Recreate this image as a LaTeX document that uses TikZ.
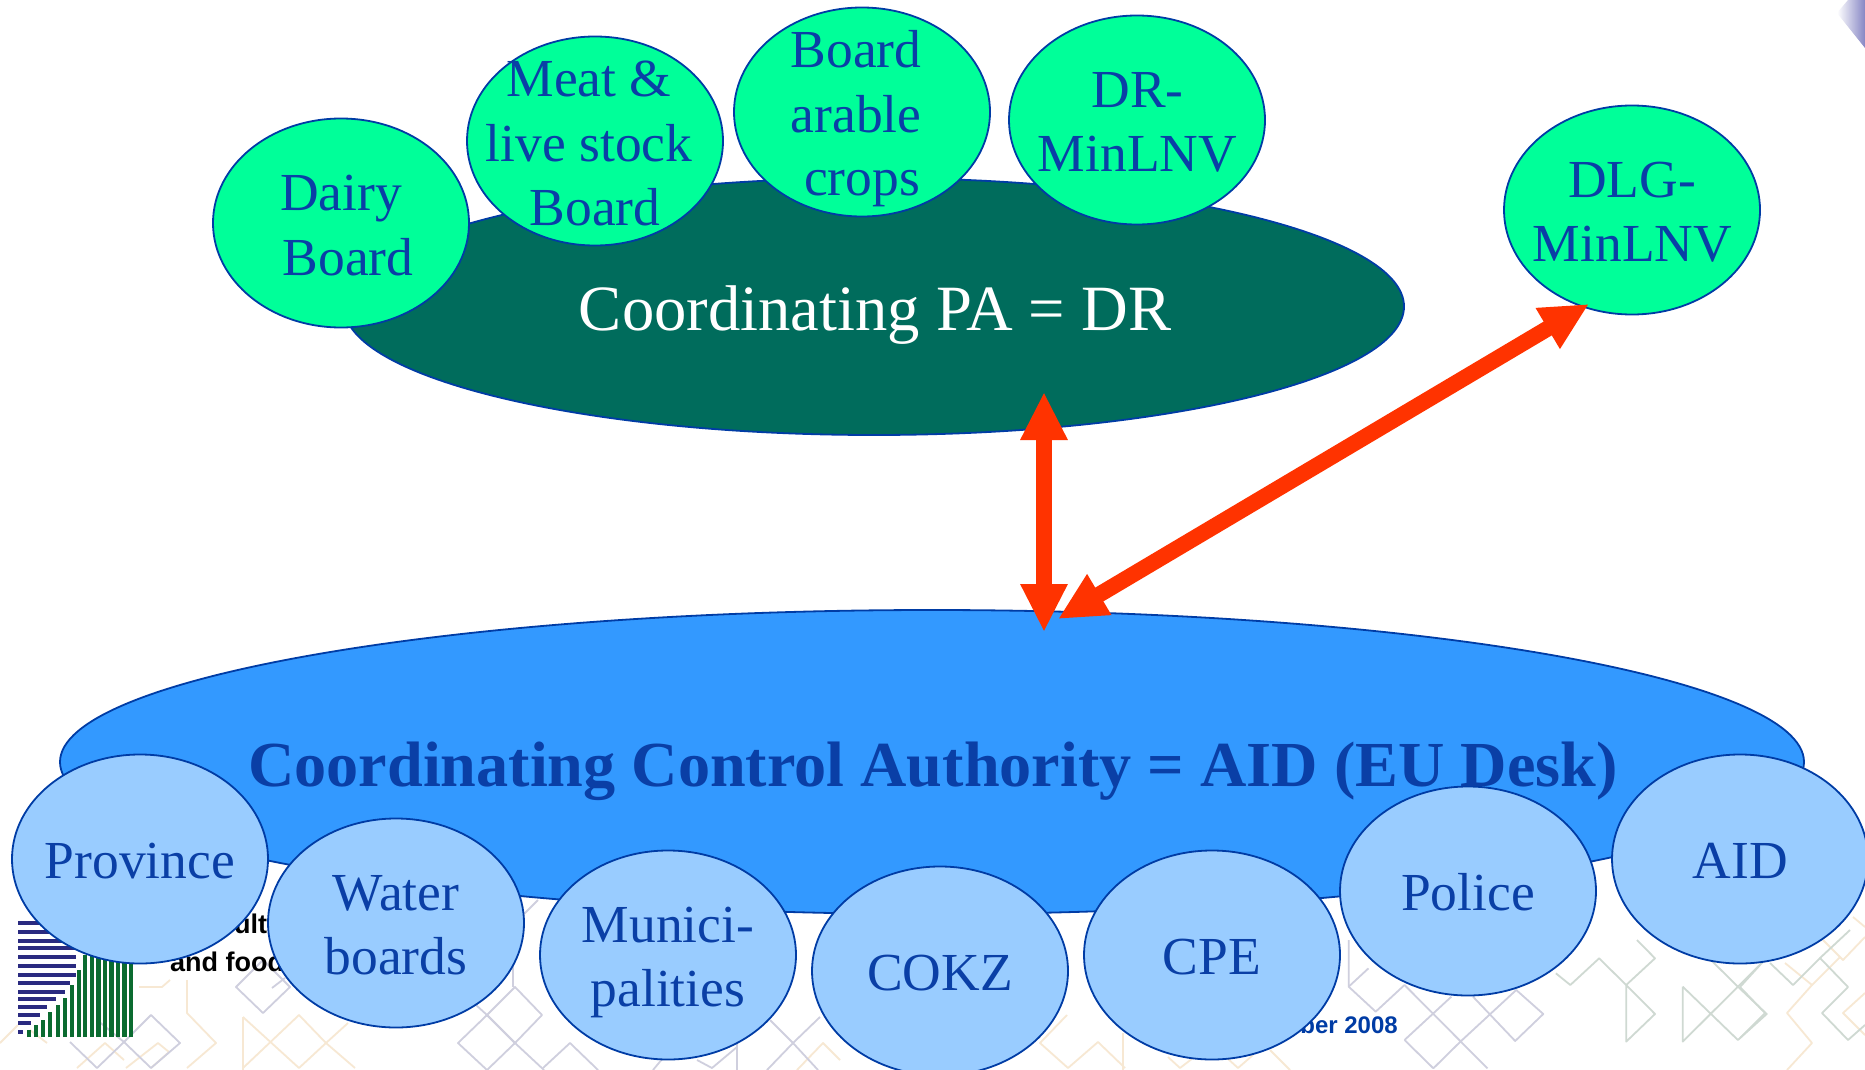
\documentclass[tikz,border=0pt]{standalone}
\usepackage{fontspec}
\setmainfont{Liberation Serif}
\newfontfamily\logofont{Liberation Sans}
\usetikzlibrary{arrows.meta,shapes.geometric}
\definecolor{ink}{HTML}{0A3FA6}
\definecolor{edgeblue}{HTML}{003CA5}
\definecolor{mint}{HTML}{00FF99}
\definecolor{sky}{HTML}{99CCFF}
\definecolor{pine}{HTML}{006C5C}
\definecolor{azure}{HTML}{3399FF}
\definecolor{flame}{HTML}{FF3300}
\definecolor{patgrey}{HTML}{CFCFDE}
\definecolor{patorange}{HTML}{F7E8D3}
\definecolor{patgreen}{HTML}{CFD9D2}
\definecolor{stripe}{HTML}{2A2A80}
\definecolor{bar}{HTML}{0B6B30}
\definecolor{cornerblue}{HTML}{8686C4}
\tikzset{
 x=1pt,y=-1pt,
 oval/.style={draw=edgeblue,line width=1.8pt,minimum width=256pt,minimum height=209pt,inner sep=0pt,ellipse,fill=#1},
 lab/.style={anchor=base,inner sep=0pt,text=ink,font=\fontsize{53.5}{64}\selectfont},
 dbl/.style={draw=flame,line width=16pt,{Triangle[length=48pt,width=44pt]}-{Triangle[length=48pt,width=44pt]}},
 pat/.style={draw=#1,line width=1.8pt,line join=round},
 logotxt/.style={inner sep=0pt,font=\logofont\bfseries\fontsize{27}{30}\selectfont},
}
\begin{document}
\begin{tikzpicture}
\useasboundingbox (0,0) rectangle (1865,1070);
\clip (0,0) rectangle (1865,1070);
\fill[white] (0,0) rectangle (1865,1070);
% corner mark
\shade[left color=white,right color=cornerblue] (1837,13) -- (1848,0) -- (1865,0) -- (1865,48) -- cycle;
% background pattern, orange first
\begin{scope}[pat=patorange]
\draw (0,1043) -- (18,1025);
\draw (30,1030) -- (47,1043);
\draw (139,987) -- (162,987) -- (170,980);
\draw (187,980) -- (187,1013) -- (216,1043) -- (187,1068);
\draw (77,1068) -- (105,1043) -- (124,1060);
\draw (126,1068) -- (158,1043) -- (169,1052) -- (151,1068);
\draw (243,1017) -- (243,1070);
\draw (243,1017) -- (299,1068);
\draw (243,1068) -- (299,1015) -- (326,1043) -- (355,1068);
\draw (299,1068) -- (326,1043) -- (348,1023);
\draw (797,1070) -- (823,1043) -- (840,1060);
\draw (1067,1015) -- (1040,1043) -- (1068,1068) -- (1098,1042) -- (1125,1068);
\draw (1123,1033) -- (1123,1070);
\draw (1168,1057) -- (1180,1068) -- (1193,1058);
\draw (1227,1058) -- (1238,1068) -- (1253,1055);
\draw (1270,1050) -- (1290,1070);
\draw (1787,1070) -- (1812,1043) -- (1787,1013) -- (1812,985) -- (1840,957);
\draw (1865,993) -- (1843,1013) -- (1865,1035);
\draw (1785,963) -- (1812,985);
\draw (1823,940) -- (1843,960) -- (1865,937);
\draw (1853,917) -- (1865,927);
\end{scope}
% grey lines
\begin{scope}[pat=patgrey]
\draw (236,987) -- (263,1013) -- (290,987) -- (263,960) -- cycle;
\draw (272,988) -- (285,978);
\draw (70,1042) -- (97,1068) -- (124,1042) -- (97,1020);
\draw (124,1042) -- (151,1015) -- (180,1043) -- (151,1068) -- cycle;
\draw (458,1043) -- (487,1015) -- (515,1043) -- (487,1070) -- cycle;
\draw (487,1015) -- (515,987) -- (542,1015) -- (515,1043) -- cycle;
\draw (515,1043) -- (544,1070);
\draw (476,1005) -- (487,1015);
\draw (538,900) -- (513,925);
\draw (513,947) -- (513,987);
\draw (543,1068) -- (570,1043) -- (598,1070);
\draw (737,1043) -- (737,1070);
\draw (697,1060) -- (712,1068) -- (737,1047);
\draw (653,1070) -- (663,1058);
\draw (770,1020) -- (793,1043) -- (767,1070);
\draw (820,1017) -- (793,1043) -- (818,1070);
\end{scope}
\begin{scope}[shift={(1300,940)},x=0.3604pt,y=-0.3333pt,pat=patgrey]
\draw (135,0) -- (135,140) -- (210,215) -- (290,135) -- (520,385);
\draw (135,140) -- (190,85);
\draw (290,300) -- (370,385) -- (445,305);
\draw (290,300) -- (420,170);
\draw (445,305) -- (600,150) -- (675,222) -- (597,303) -- (480,170);
\end{scope}
\begin{scope}[shift={(1300,940)},x=0.3604pt,y=-0.3333pt,pat=patgreen]
\draw (710,100) -- (750,135) -- (830,55) -- (905,135) -- (985,55) -- (935,0);
\draw (905,135) -- (985,222) -- (905,305) -- cycle;
\draw (1062,140) -- (1062,305) -- (1215,140) -- (1295,222) -- (1215,300) -- (1062,140);
\draw (1215,140) -- (1140,60);
\draw (1215,140) -- (1285,65);
\end{scope}
\begin{scope}[pat=patgreen]
\draw (1770,963) -- (1793,985) -- (1820,958) -- (1848,987) -- (1822,1013) -- (1848,1040) -- (1865,1025);
\draw (1740,1038) -- (1765,1013) -- (1740,987) -- (1760,965);
\draw (1820,958) -- (1850,930);
\end{scope}
% logo
\foreach \yy/\xx in {923/76,932/76,941/76,948/76,957/76,966/76,975/76,983/70,992/65,999/56,1007/47,1015/40,1023/31,1032/23}
 {\draw[stripe,line width=3.2pt] (18,\yy) -- (\xx,\yy);}
\foreach \xx/\yy in {29/1030,36/1025,43/1020,50/1012,58/1005,65/998,72/985,79/970,85/955,92/945,98.5/945,105/945,111.5/945,118/945,124.5/945,131/945}
 {\draw[bar,line width=4.4pt] (\xx,1037) -- (\xx,\yy);}
\node[logotxt,anchor=base west] (logoa) at (234,933) {ult};
\node[logotxt,anchor=base west] (logob) at (170,971) {and food};
\node[logotxt,anchor=base east,text=edgeblue,font=\logofont\bfseries\fontsize{24}{28}\selectfont] (date) at (1398,1033) {ber 2008};
% upper group
\node[draw=edgeblue,line width=1.8pt,ellipse,fill=pine,minimum width=1060pt,minimum height=257pt,inner sep=0pt] (pa) at (874,306.5) {};
\node[oval=mint] (dairy) at (341,223) {};
\node[oval=mint] (meat) at (595,141) {};
\node[oval=mint] (arable) at (862,112) {};
\node[oval=mint] (dr) at (1137,120) {};
\node[oval=mint] (dlg) at (1632,210) {};
\node[lab] (t1) at (341,210) {Dairy};
\node[lab] (t2) at (348,275) {Board};
\node[lab] (t3) at (589,97) {Meat \&};
\node[lab] (t4) at (589,161) {live stock};
\node[lab] (t5) at (595,225) {Board};
\node[lab] (t6) at (856,68) {Board};
\node[lab] (t7) at (856,132) {arable};
\node[lab] (t8) at (862,195) {crops};
\node[lab] (t9) at (1137.5,108) {DR-};
\node[lab] (t10) at (1137.5,171) {MinLNV};
\node[lab] (t11) at (1632,197) {DLG-};
\node[lab] (t12) at (1632.5,261) {MinLNV};
\node[lab,text=white,font=\fontsize{64.6}{70}\selectfont] (patext) at (875,330) {Coordinating PA = DR};
% lower group
\node[draw=edgeblue,line width=1.8pt,ellipse,fill=azure,minimum width=1744pt,minimum height=304pt,inner sep=0pt] (cca) at (932,762) {};
\coordinate (pain) at (1044,392);
\coordinate (ccain) at (1044,632);
\coordinate (ccain2) at (1058,619);
\coordinate (dlgedge) at (1589,304);
\draw[dbl] (pain) -- (ccain);
\draw[dbl] (dlgedge) -- (ccain2);
\node[oval=sky] (prov) at (140,859) {};
\node[oval=sky] (water) at (396,923) {};
\node[oval=sky] (muni) at (668,955) {};
\node[oval=sky] (cokz) at (940,971) {};
\node[oval=sky] (cpe) at (1212,955) {};
\node[oval=sky] (police) at (1468,891) {};
\node[oval=sky] (aid) at (1740,859) {};
\node[lab] (b1) at (140,878) {Province};
\node[lab] (b2) at (396,910) {Water};
\node[lab] (b3) at (396,974) {boards};
\node[lab] (b4) at (668,942) {Munici-};
\node[lab] (b5) at (668,1006) {palities};
\node[lab] (b6) at (940,990) {COKZ};
\node[lab] (b7) at (1212,974) {CPE};
\node[lab] (b8) at (1468,910) {Police};
\node[lab] (b9) at (1740.5,878) {AID};
\node[lab,font=\bfseries\fontsize{64.2}{70}\selectfont] (ccatext) at (933,786) {Coordinating Control Authority = AID (EU Desk)};
\end{tikzpicture}
\end{document}
